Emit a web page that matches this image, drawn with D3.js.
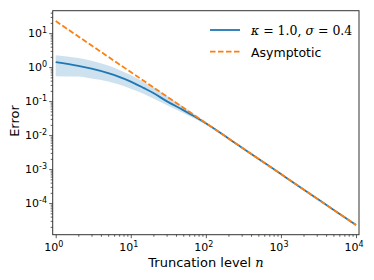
<!DOCTYPE html>
<html>
<head>
<meta charset="utf-8">
<script src="https://cdn.jsdelivr.net/npm/d3@7"></script>
<style>
  body { margin: 0; background: #fff; }
  svg { display: block; }
  text { font-family: "DejaVu Sans", sans-serif; fill: #000; }
</style>
</head>
<body>
<svg id="chart" width="374" height="280"></svg>
<script>
// Truncation levels (n) sampled along the curves
const levels = [1, 2, 3, 5, 7, 10, 15, 20, 30, 50, 70, 100, 200, 500, 1000, 2000, 5000, 10000];
// Mean error for kappa=1.0, sigma=0.4
const errMean = [1.40, 1.085, 0.897, 0.662, 0.515, 0.375, 0.241, 0.173, 0.100, 0.0544, 0.0357, 0.0222, 0.0080, 0.00202, 7.15e-4, 2.53e-4, 6.39e-5, 2.26e-5];
// Spread band around the mean
const errUpper = [2.25, 1.865, 1.553, 1.107, 0.827, 0.582, 0.362, 0.255, 0.145, 0.0698, 0.0420, 0.0238, 0.00822, 0.00206, 7.2e-4, 2.54e-4, 6.4e-5, 2.27e-5];
const errLower = [0.543, 0.526, 0.459, 0.375, 0.306, 0.233, 0.161, 0.119, 0.0763, 0.0444, 0.0306, 0.0204, 0.00773, 0.00198, 7.1e-4, 2.52e-4, 6.38e-5, 2.25e-5];
// Asymptotic rate
const asymN = [1, 10, 100, 1000, 10000];
const asymVal = [22.6, 0.715, 0.0226, 7.15e-4, 2.26e-5];
// Major tick exponents
const xExps = [0, 1, 2, 3, 4];
const yExps = [1, 0, -1, -2, -3, -4];

const svg = d3.select("#chart");
const box = {left: 52.7, right: 359, top: 10.7, bottom: 234.7};

let x = d3.scaleLog().domain([Math.pow(10, -0.04), Math.pow(10, 4.04)]).range([box.left, box.right]);
let y = d3.scaleLog().domain([Math.pow(10, -4.93), Math.pow(10, 1.66)]).range([box.bottom, box.top]);

const blue = "#1f77b4", orange = "#ff7f0e";

// Band
let area = d3.area()
    .x((d, i) => x(levels[i]))
    .y0((d, i) => y(errLower[i]))
    .y1((d, i) => y(errUpper[i]))
    .curve(d3.curveMonotoneX);
svg.append("path")
    .attr("d", area(levels))
    .attr("fill", blue)
    .attr("fill-opacity", 0.22);

// Mean line
let line = d3.line()
    .x((d, i) => x(levels[i]))
    .y((d, i) => y(errMean[i]))
    .curve(d3.curveMonotoneX);
svg.append("path")
    .attr("d", line(levels))
    .attr("fill", "none")
    .attr("stroke", blue)
    .attr("stroke-width", 1.8);

// Asymptotic line
let asymLine = d3.line()
    .x((d, i) => x(asymN[i]))
    .y((d, i) => y(asymVal[i]));
svg.append("path")
    .attr("d", asymLine(asymN))
    .attr("fill", "none")
    .attr("stroke", orange)
    .attr("stroke-width", 1.8)
    .attr("stroke-dasharray", "5.5,2.5");

// Frame
svg.append("rect")
    .attr("x", box.left).attr("y", box.top)
    .attr("width", box.right - box.left)
    .attr("height", box.bottom - box.top)
    .attr("fill", "none")
    .attr("stroke", "#333")
    .attr("stroke-width", 1);

// Axes (ticks outside), minor ticks at 2..9 of each decade
let xTickVals = d3.range(0, 5).flatMap(e => d3.range(1, 10).map(m => m * Math.pow(10, e)))
    .filter(v => v >= x.domain()[0] && v <= x.domain()[1]);
let gx = svg.append("g")
    .attr("transform", "translate(0," + box.bottom + ")")
    .call(d3.axisBottom(x).tickValues(xTickVals).tickSize(2).tickFormat(""));
let yTickVals = d3.range(-5, 2).flatMap(e => d3.range(1, 10).map(m => m * Math.pow(10, e)))
    .filter(v => v >= y.domain()[0] && v <= y.domain()[1]);
let gy = svg.append("g")
    .attr("transform", "translate(" + box.left + ",0)")
    .call(d3.axisLeft(y).tickValues(yTickVals).tickSize(2).tickFormat(""));
[gx, gy].forEach(g => {
  g.select(".domain").remove();
  g.selectAll("line").attr("stroke", "#333").attr("stroke-width", 0.8);
});
// Major ticks longer
gx.selectAll(".tick").filter(d => xExps.some(e => Math.abs(Math.log10(d) - e) < 1e-9))
    .select("line").attr("y2", 3.5);
gy.selectAll(".tick").filter(d => yExps.some(e => Math.abs(Math.log10(d) - e) < 1e-9))
    .select("line").attr("x2", -3.5);

// Tick labels
xExps.forEach(e => {
  let t = svg.append("text")
      .attr("x", x(Math.pow(10, e)) - 2)
      .attr("y", 251)
      .attr("text-anchor", "middle")
      .style("font-size", "11px");
  t.append("tspan").text("10");
  t.append("tspan").attr("dy", -4.5).style("font-size", "8px").text(e);
});
yExps.forEach(e => {
  let t = svg.append("text")
      .attr("x", 47)
      .attr("y", y(Math.pow(10, e)) + 4)
      .attr("text-anchor", "end")
      .style("font-size", "11px");
  t.append("tspan").text("10");
  t.append("tspan").attr("dy", -4.5).style("font-size", "8px").text(e < 0 ? "-" + (-e) : e);
});

// Axis titles
let xt = svg.append("text")
    .attr("x", 206).attr("y", 267)
    .attr("text-anchor", "middle")
    .style("font-size", "13px");
xt.append("tspan").text("Truncation level ");
xt.append("tspan").style("font-family", "DejaVu Serif, serif").style("font-style", "italic").text("n");

svg.append("text")
    .attr("transform", "translate(19,121) rotate(-90)")
    .attr("text-anchor", "middle")
    .style("font-size", "13px")
    .text("Error");

// Legend
let legend = svg.append("g");
legend.append("line")
    .attr("x1", 210).attr("x2", 240).attr("y1", 30).attr("y2", 30)
    .attr("stroke", blue).attr("stroke-width", 1.8);
legend.append("line")
    .attr("x1", 210).attr("x2", 240).attr("y1", 51.7).attr("y2", 51.7)
    .attr("stroke", orange).attr("stroke-width", 1.8)
    .attr("stroke-dasharray", "5.5,2.5");
let lt = legend.append("text")
    .attr("x", 251).attr("y", 35)
    .style("font-family", "DejaVu Serif, serif")
    .style("font-size", "12.5px");
lt.append("tspan").style("font-style", "italic").text("κ");
lt.append("tspan").text(" = 1.0, ");
lt.append("tspan").style("font-style", "italic").text("σ");
lt.append("tspan").text(" = 0.4");
legend.append("text")
    .attr("x", 251).attr("y", 56.5)
    .style("font-size", "12.5px")
    .text("Asymptotic");
</script>
</body>
</html>
